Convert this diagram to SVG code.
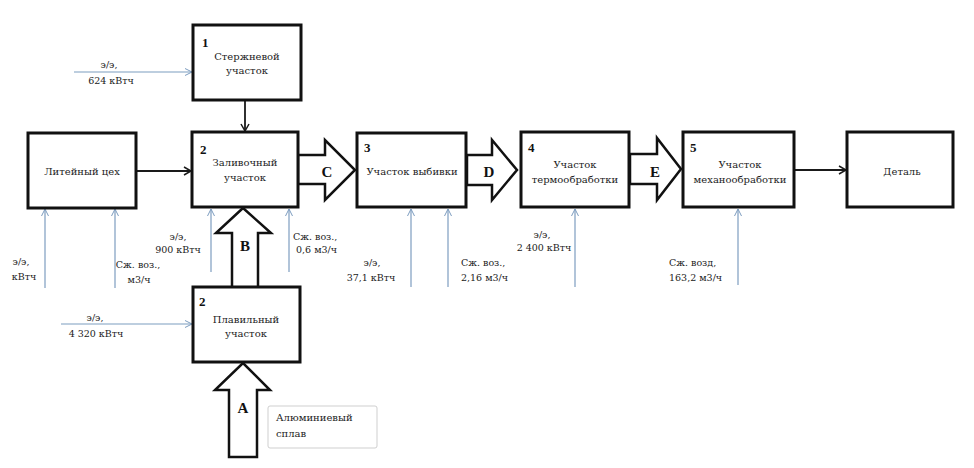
<svg xmlns="http://www.w3.org/2000/svg" width="974" height="468" viewBox="0 0 974 468">
<defs>
<marker id="ab" markerWidth="10" markerHeight="10" refX="8" refY="5" orient="auto" markerUnits="userSpaceOnUse"><path d="M1,1 L8,5 L1,9" fill="none" stroke="#1a1a1a" stroke-width="1.5"/></marker>
<marker id="ablue" markerWidth="10" markerHeight="10" refX="8" refY="5" orient="auto" markerUnits="userSpaceOnUse"><path d="M1,1.5 L8,5 L1,8.5" fill="none" stroke="#7d9dc0" stroke-width="1"/></marker>
<style>
.box{fill:#fff;stroke:#111;stroke-width:3}
.blk{fill:#fff;stroke:#111;stroke-width:2.5;stroke-linejoin:miter}
.t{font-family:"DejaVu Serif","Liberation Serif",serif;font-size:10px;fill:#222}
.s{font-family:"DejaVu Serif","Liberation Serif",serif;font-size:9.5px;fill:#222}
.n{font-family:"Liberation Serif",serif;font-size:13px;font-weight:bold;fill:#111}
.L{font-family:"Liberation Serif",serif;font-size:15px;font-weight:bold;fill:#111}
.c{text-anchor:middle}
.bl{fill:none;stroke:#7d9dc0;stroke-width:1.2;marker-end:url(#ablue)}
.bk{fill:none;stroke:#1a1a1a;stroke-width:1.8;marker-end:url(#ab)}
</style>
</defs>
<rect width="974" height="468" fill="#fff"/>

<g id="connectors">
<line class="bk" x1="137" y1="171" x2="191" y2="171"/>
<line class="bk" x1="245" y1="101" x2="245" y2="131"/>
<line class="bk" x1="795" y1="170" x2="846" y2="170"/>
<line class="bl" x1="74" y1="72" x2="192" y2="72"/>
<line class="bl" x1="61" y1="324" x2="192" y2="324"/>
<line class="bl" x1="45" y1="288" x2="45" y2="209"/>
<line class="bl" x1="115" y1="288" x2="115" y2="209"/>
<line class="bl" x1="211" y1="272" x2="211" y2="209"/>
<line class="bl" x1="289" y1="272" x2="289" y2="209"/>
<line class="bl" x1="411" y1="287" x2="411" y2="209"/>
<line class="bl" x1="448" y1="287" x2="448" y2="209"/>
<line class="bl" x1="575" y1="287" x2="575" y2="209"/>
<line class="bl" x1="738" y1="285" x2="738" y2="209"/>
<polygon class="blk" points="229,457 229,390 215,390 243,363 270,390 257,390 257,457"/>
<polygon class="blk" points="232,288 232,233 216,233 243,208 271,233 258,233 258,288"/>
<polygon class="blk" points="298,155 325,155 325,140 355,170 325,200 325,184 298,184"/>
<polygon class="blk" points="467,155 492,155 492,140 517,170 492,200 492,185 467,185"/>
<polygon class="blk" points="630,154 657,154 657,138 681,169 657,200 657,184 630,184"/>
<text class="L c" x="243" y="413">A</text>
<text class="L c" x="245" y="251">B</text>
<text class="L c" x="327" y="177">C</text>
<text class="L c" x="489" y="177">D</text>
<text class="L c" x="655" y="177">E</text>
<text class="s c" x="109" y="68">э/э,</text>
<text class="s c" x="111" y="84">624 кВтч</text>
<text class="s c" x="95" y="321">э/э,</text>
<text class="s c" x="96" y="337">4 320 кВтч</text>
<text class="s c" x="21" y="265">э/э,</text>
<text class="s c" x="24" y="280">кВтч</text>
<text class="s c" x="138" y="268">Сж. воз.,</text>
<text class="s c" x="139" y="283">м3/ч</text>
<text class="s c" x="178" y="240">э/э,</text>
<text class="s c" x="178" y="253">900 кВтч</text>
<text class="s" x="293" y="240">Сж. воз.,</text>
<text class="s" x="296" y="253">0,6 м3/ч</text>
<text class="s c" x="372" y="266">э/э,</text>
<text class="s c" x="371" y="281">37,1 кВтч</text>
<text class="s" x="461" y="266">Сж. воз.,</text>
<text class="s" x="461" y="281">2,16 м3/ч</text>
<text class="s c" x="542" y="238">э/э,</text>
<text class="s c" x="544" y="251">2 400 кВтч</text>
<text class="s" x="669" y="266">Сж. возд,</text>
<text class="s" x="669" y="281">163,2 м3/ч</text>
</g>

<g id="node-sterzh">
<rect class="box" x="193" y="25" width="108" height="75"/>
<text class="n" x="202" y="47">1</text>
<text class="t c" x="247" y="60">Стержневой</text>
<text class="t c" x="247" y="74">участок</text>
</g>
<g id="node-liteyny">
<rect class="box" x="28" y="133" width="108" height="75"/>
<text class="t c" x="82" y="175">Литейный цех</text>
</g>
<g id="node-zalivoch">
<rect class="box" x="192" y="132" width="106" height="75"/>
<text class="n" x="200" y="154">2</text>
<text class="t c" x="245" y="166">Заливочный</text>
<text class="t c" x="245" y="181">участок</text>
</g>
<g id="node-plavil">
<rect class="box" x="193" y="287" width="107" height="75"/>
<text class="n" x="199" y="306">2</text>
<text class="t c" x="246" y="323">Плавильный</text>
<text class="t c" x="246" y="337">участок</text>
</g>
<g id="node-alum">
<rect x="268" y="406" width="109" height="42" rx="2" fill="#fff" stroke="#cfcfcf" stroke-width="1"/>
<text class="t" x="276" y="421">Алюминиевый</text>
<text class="t" x="276" y="437">сплав</text>
</g>
<g id="node-vybivka">
<rect class="box" x="357" y="133" width="109" height="74"/>
<text class="n" x="364" y="152">3</text>
<text class="t c" x="412" y="175">Участок выбивки</text>
</g>
<g id="node-termo">
<rect class="box" x="521" y="132" width="108" height="75"/>
<text class="n" x="528" y="152">4</text>
<text class="t c" x="575" y="168">Участок</text>
<text class="t c" x="575" y="183">термообработки</text>
</g>
<g id="node-mekh">
<rect class="box" x="683" y="132" width="111" height="75"/>
<text class="n" x="690" y="152">5</text>
<text class="t c" x="740" y="168">Участок</text>
<text class="t c" x="740" y="183">механообработки</text>
</g>
<g id="node-detal">
<rect class="box" x="847" y="132" width="106" height="75"/>
<text class="t c" x="902" y="175">Деталь</text>
</g>
</svg>
